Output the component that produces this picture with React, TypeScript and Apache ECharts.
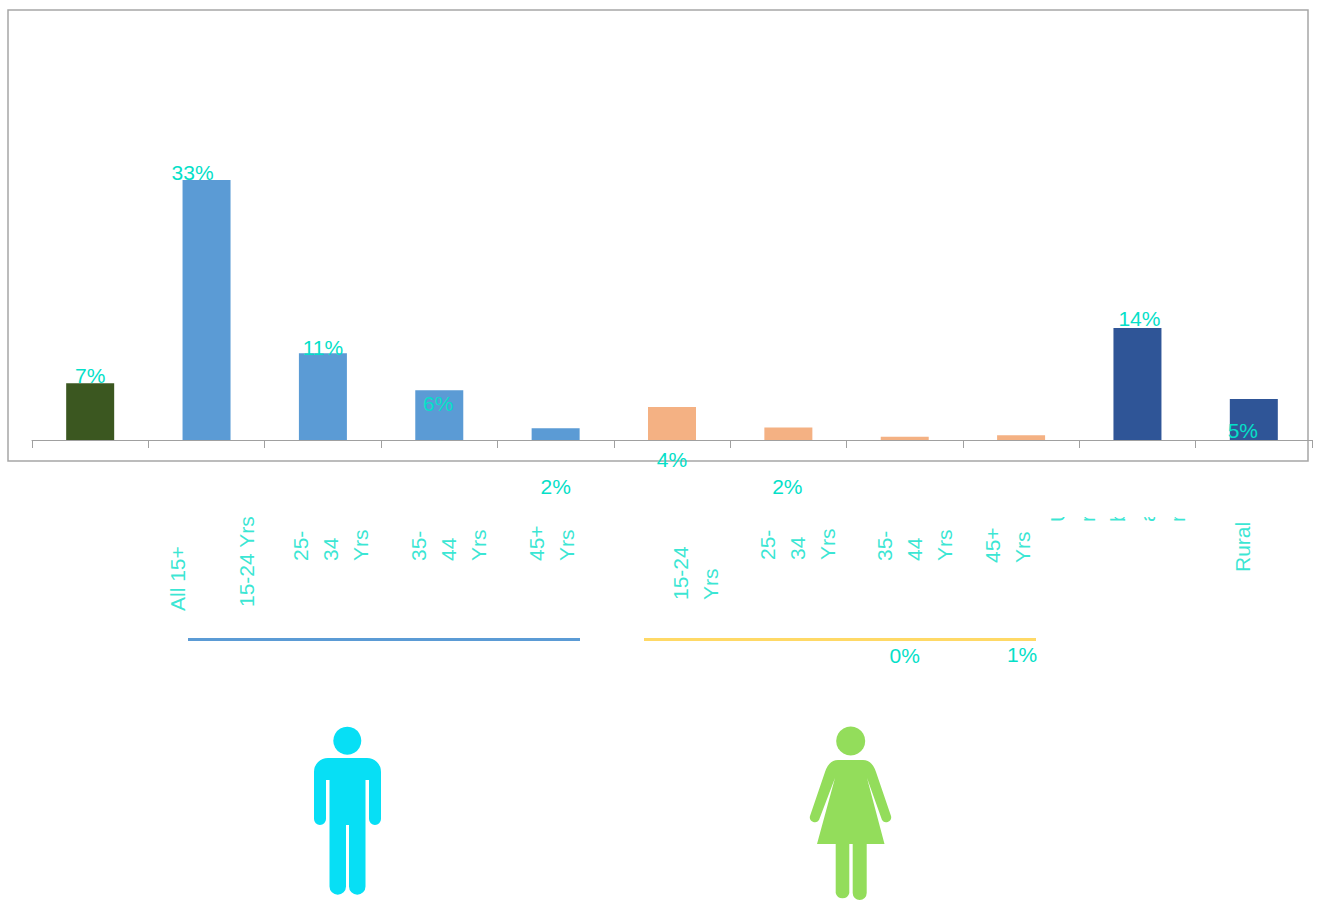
import React, { useEffect, useRef } from "react";
import * as echarts from "echarts";

const categories = ["All 15+", "15-24 Yrs", "25-\n34\nYrs", "35-\n44\nYrs", "45+\nYrs", "15-24\nYrs", "25-\n34\nYrs", "35-\n44\nYrs", "45+\nYrs", "U\nr\nb\na\nn", "Rural"];
const values = [7.2, 33, 11, 6.3, 1.5, 4.2, 1.6, 0.4, 0.6, 14.2, 5.2];
const barColors = ["#3b5720", "#5b9bd5", "#5b9bd5", "#5b9bd5", "#5b9bd5", "#f4b183", "#f4b183", "#f4b183", "#f4b183", "#2f5597", "#2f5597"];

// layout: offset of each value label from the top of its bar
const valueLabelOffsets: number[][] = [[0, 3], [-14, 3], [0, 5], [-1, 24], [0, 69], [0, 63], [-1, 70], [0, 229], [1, 230], [2, 1], [-11, 42]];
// layout: screen offset of each category label from its axis position (start of the rotated text)
const categoryLabelOffsets: number[][] = [[87, 171], [40, 167], [8, 121], [9, 121], [-4, 121], [23, 160], [9, 120], [10, 121], [-14, 123], [-20, 82], [-11, 132]];

const manPath = "M328 758 H367 A14 14 0 0 1 381 772 V819 A6 6 0 0 1 369 819 V780 H365.5 V886.5 A8.25 8.25 0 0 1 349 886.5 V825 H346 V886.5 A8.25 8.25 0 0 1 329.5 886.5 V780 H326 V819 A6 6 0 0 1 314 819 V772 A14 14 0 0 1 328 758 Z";
const womanPath = "M838 760 H863 Q872 760 876 772 L891 816 A5 5 0 0 1 882 820 L867 778 L884.5 844 H866.7 V893 A7 7 0 0 1 852.7 893 V844 H849.3 V893 A7 7 0 0 1 835.7 893 V844 H817 L835 778 L819 820 A5 5 0 0 1 810 816 L825 772 Q829 760 838 760 Z";

const TEXT = "#05e0c8";
const FONT = "'Liberation Sans', sans-serif";

export default function App() {
  const ref = useRef<HTMLDivElement>(null);
  useEffect(() => {
    echarts.graphic.registerShape("manShape", echarts.graphic.extendPath(manPath, {}));
    echarts.graphic.registerShape("womanShape", echarts.graphic.extendPath(womanPath, {}));
    const chart = echarts.init(ref.current!, undefined, { renderer: "svg" });
    chart.setOption({
      animation: false,
      backgroundColor: "#ffffff",
      grid: { left: 32, top: 46, width: 1280, height: 394 },
      xAxis: {
        type: "category",
        data: categories,
        axisLine: { lineStyle: { color: "#a0a0a0", width: 1 } },
        axisTick: { show: true, length: 8, lineStyle: { color: "#a0a0a0", width: 1 } },
        axisLabel: { show: false },
      },
      yAxis: { type: "value", min: 0, max: 50, show: false },
      series: [
        {
          type: "bar",
          barWidth: 48,
          z: 3,
          data: values.map((v, i) => ({
            value: v,
            itemStyle: { color: barColors[i] },
            label: { offset: valueLabelOffsets[i] },
          })),
          label: {
            show: true,
            position: "top",
            distance: 0,
            color: TEXT,
            fontSize: 21,
            fontFamily: FONT,
            formatter: (p: any) => `${Math.round(p.value)}%`,
          },
        },
        {
          type: "scatter",
          symbolSize: 0,
          silent: true,
          z: 4,
          data: categories.map((_, i) => ({
            value: [i, 0],
            // the label's offset turns with the rotated text
            label: { offset: [-categoryLabelOffsets[i][1], categoryLabelOffsets[i][0]] },
          })),
          label: {
            show: true,
            position: "inside",
            rotate: 90,
            align: "left",
            verticalAlign: "middle",
            color: TEXT,
            fontSize: 21,
            lineHeight: 30,
            fontFamily: FONT,
            formatter: (p: any) => categories[p.dataIndex],
          },
        },
      ],
      graphic: [
        { type: "rect", z: -1, silent: true, shape: { x: 8, y: 10, width: 1300, height: 451 }, style: { fill: "transparent", stroke: "#a6a6a6", lineWidth: 1.5 } },
        { type: "rect", z: 100, silent: true, shape: { x: 1040, y: 465, width: 160, height: 52 }, style: { fill: "#ffffff" } },
        { type: "line", z: 10, shape: { x1: 188, y1: 639.5, x2: 580, y2: 639.5 }, style: { stroke: "#5b9bd5", lineWidth: 3 } },
        { type: "line", z: 10, shape: { x1: 644, y1: 639.5, x2: 1036, y2: 639.5 }, style: { stroke: "#ffd966", lineWidth: 3 } },
        { type: "circle", z: 10, shape: { cx: 347.3, cy: 740.7, r: 14 }, style: { fill: "#07dff5" } },
        { type: "manShape", z: 10, x: 0, y: 0, style: { fill: "#07dff5" } },
        { type: "circle", z: 10, shape: { cx: 850.7, cy: 741, r: 14.5 }, style: { fill: "#93dd5b" } },
        { type: "womanShape", z: 10, x: 0, y: 0, style: { fill: "#93dd5b" } },
      ],
    });
    return () => chart.dispose();
  }, []);
  return <div ref={ref} style={{ position: "absolute", left: 0, top: 0, width: 1339, height: 901 }} />;
}
